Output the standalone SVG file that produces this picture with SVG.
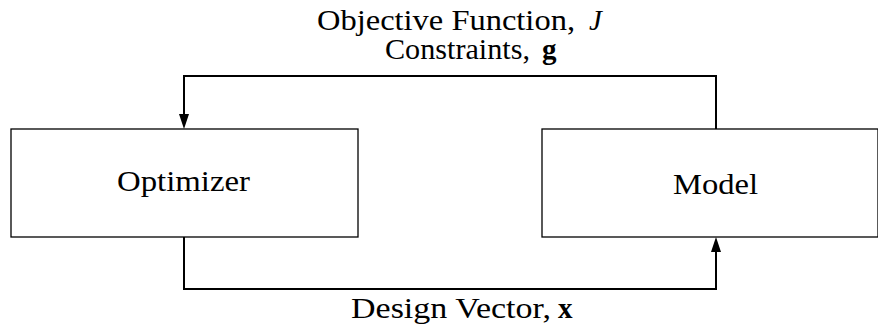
<svg xmlns="http://www.w3.org/2000/svg" width="878" height="331" viewBox="0 0 878 331">
<style>
.box{fill:#fff;stroke:#000;stroke-width:1.3}
.conn{fill:none;stroke:#000;stroke-width:2}
.t{font-family:'Liberation Serif','DejaVu Serif',serif;font-size:29px;fill:#000}
.it{font-style:italic}
.bf{font-weight:bold}
</style>
<defs>
<marker id="ah" viewBox="0 0 15 10" refX="0" refY="5" markerWidth="15" markerHeight="10" markerUnits="userSpaceOnUse" orient="auto">
<path d="M0,0 L15,5 L0,10 z" fill="#000"/>
</marker>
</defs>
<g id="optimizer">
<rect class="box" x="11" y="129" width="347" height="108"/>
<text class="t" x="117" y="191" textLength="133" lengthAdjust="spacingAndGlyphs">Optimizer</text>
</g>
<g id="model">
<rect class="box" x="542" y="129" width="336" height="108"/>
<text class="t" x="673" y="194" textLength="85" lengthAdjust="spacingAndGlyphs">Model</text>
</g>
<g id="connectors">
<path class="conn" d="M716,129 V76 H184 V114" marker-end="url(#ah)"/>
<path class="conn" d="M184,237 V289 H716 V252" marker-end="url(#ah)"/>
</g>
<g id="labels">
<text class="t" x="317" y="30" textLength="258" lengthAdjust="spacingAndGlyphs">Objective Function,</text>
<text class="t it" x="589" y="30">J</text>
<text class="t" x="385" y="59" textLength="145" lengthAdjust="spacingAndGlyphs">Constraints,</text>
<text class="t bf" x="542" y="59">g</text>
<text class="t" x="351" y="318" textLength="200" lengthAdjust="spacingAndGlyphs">Design Vector,</text>
<text class="t bf" x="558" y="318">x</text>
</g>
</svg>
